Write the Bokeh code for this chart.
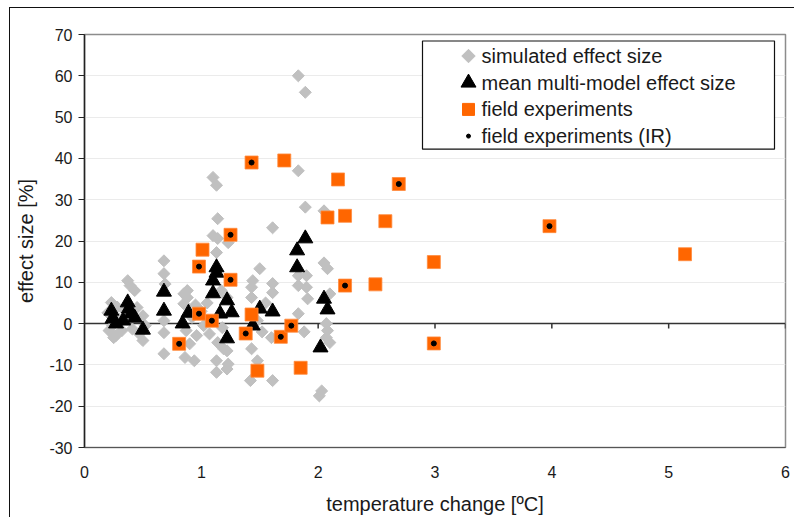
import math
from bokeh.plotting import figure
from bokeh.models import Range1d, FixedTicker, Span
from bokeh.core.properties import value
from bokeh.embed import file_html
from bokeh.resources import INLINE

# simulated effect size (grey diamonds)
sim_x = [0.20, 0.21, 0.23, 0.24, 0.25, 0.27, 0.28, 0.30, 0.32, 0.35, 0.37, 0.39, 0.41, 0.43, 0.45, 0.47, 0.50, 0.50, 0.52,
         0.68, 0.68, 0.69, 0.68, 0.68, 0.68,
         0.85, 0.85, 0.88, 0.88, 0.87, 0.90, 0.86, 0.94, 0.96, 0.92, 0.95, 1.00, 1.02,
         1.10, 1.13, 1.14, 1.10, 1.14, 1.23, 1.13, 1.22, 1.14, 1.22, 1.13, 1.13, 1.22, 1.19, 1.23, 1.17, 1.05, 1.18, 1.07,
         1.50, 1.44, 1.43, 1.61, 1.61, 1.43, 1.48, 1.60, 1.43, 1.48, 1.42, 1.61, 1.61, 1.55, 1.52,
         1.83, 1.89, 1.83, 1.89, 2.05, 2.05, 2.08, 1.83, 1.90, 1.90, 1.83, 1.91, 1.83, 2.10, 2.07, 2.08, 2.07, 2.10, 2.03, 2.01, 1.88]
sim_y = [2.6, -1.7, 5.1, -0.5, -3.4, -2.9, 4.0, 1.0, -1.7, 3.0, 10.4, 9.2, -1.3, 8.0, 3.9, -2.5, 1.9, -4.1, -0.5,
         15.2, 12.1, 9.6, 0.7, -2.2, -7.3,
         7.2, 4.8, 8.0, 6.3, -1.7, -4.9, -8.2, -9.0, -2.9, 1.5, 4.5, 3.0, -0.5,
         35.4, 33.5, 25.4, 21.3, 20.6, 19.6, 17.2, 6.3, -4.6, -6.6, -9.0, -11.8, -11.0, -6.1, -9.8, 8.0, 5.0, -1.0, -2.5,
         13.3, 10.4, 8.8, 9.7, 7.5, 6.3, 0.7, -3.4, -6.1, -9.0, -13.8, -13.8, 23.2, 5.0, -2.0,
         60.0, 56.0, 37.0, 28.2, 27.3, 14.7, 13.3, 11.6, 11.6, 8.8, 9.2, 6.0, 2.4, 7.2, 0.0, -1.7, -3.4, -4.6, -16.3, -17.5, -2.0]

# mean multi-model effect size (black triangles)
mm_x = [0.23, 0.24, 0.27, 0.33, 0.37, 0.38, 0.40, 0.43, 0.50, 0.68, 0.68, 0.84, 0.89,
        1.10, 1.10, 1.13, 1.13, 1.16, 1.22, 1.26, 1.22, 1.44, 1.50, 1.61,
        1.82, 1.89, 1.82, 2.05, 2.08, 2.02]
mm_y = [3.1, 1.2, 0.0, 0.7, 5.1, 3.6, 2.4, 1.4, -1.5, 7.7, 3.1, 0.0, 2.6,
        10.4, 7.3, 13.6, 12.3, 2.4, 5.6, 2.7, -3.6, -0.5, 3.6, 2.9,
        17.7, 20.6, 13.6, 6.0, 3.4, -5.8]

# field experiments (orange squares)
field_x = [1.01, 1.43, 1.48, 1.71, 1.85, 2.08, 2.17, 2.23, 2.49, 2.575, 2.99, 5.14]
field_y = [17.9, 2.2, -11.4, 39.5, -10.7, 25.7, 34.9, 26.1, 9.5, 24.8, 14.9, 16.8]

# field experiments (IR) - also field experiments, marked with a dot
ir_x = [0.81, 0.98, 0.98, 1.09, 1.25, 1.25, 1.38, 1.43, 1.68, 1.77, 2.23, 2.69, 2.99, 3.98]
ir_y = [-4.9, 13.8, 2.4, 0.7, 21.5, 10.6, -2.4, 39.0, -3.2, -0.5, 9.2, 33.8, -4.8, 23.6]

x_ticks = [0, 1, 2, 3, 4, 5, 6]
y_ticks = [-30, -20, -10, 0, 10, 20, 30, 40, 50, 60, 70]

legend_labels = ["simulated effect size", "mean multi-model effect size",
                 "field experiments", "field experiments (IR)"]

FONT = "Liberation Sans"
TXT = "#1a1a1a"
GREY = "#c0c0c0"
ORANGE = "#ff6600"

p = figure(width=785, height=510, output_backend="svg", toolbar_location=None, title=None,
           x_range=Range1d(0, 6), y_range=Range1d(-30, 70),
           min_border_left=74, min_border_right=10, min_border_top=26, min_border_bottom=71)
p.styles = {"margin-left": "9px", "margin-top": "7px",
            "border-left": "1px solid #111", "border-top": "1px solid #111"}

p.outline_line_color = "#8c8c8c"
p.outline_line_width = 1.5
p.xgrid.grid_line_color = None
p.ygrid.grid_line_color = "#ebebeb"
p.ygrid.ticker = FixedTicker(ticks=y_ticks)

p.xaxis.ticker = FixedTicker(ticks=x_ticks)
p.yaxis.ticker = FixedTicker(ticks=y_ticks)
p.yaxis.major_label_overrides = {t: str(t) for t in y_ticks}
p.xaxis.axis_label = "temperature change [ºC]"
p.yaxis.axis_label = "effect size [%]"
for ax in (p.xaxis[0], p.yaxis[0]):
    ax.axis_label_text_font = FONT
    ax.axis_label_text_font_size = "20px"
    ax.axis_label_text_font_style = "normal"
    ax.axis_label_text_color = TXT
    ax.major_label_text_font = FONT
    ax.major_label_text_font_size = "16px"
    ax.major_label_text_color = TXT
    ax.minor_tick_line_color = None
p.xaxis.axis_line_color = "#555555"
p.xaxis.major_tick_line_color = None
p.xaxis.major_label_standoff = 12
p.xaxis.axis_label_standoff = 12
p.yaxis.axis_line_color = "#222222"
p.yaxis.axis_line_width = 1.5
p.yaxis.major_tick_line_color = "#222222"
p.yaxis.major_tick_out = 6
p.yaxis.major_tick_in = 0
p.yaxis.major_label_standoff = 6
p.yaxis.axis_label_standoff = 9

# horizontal axis line at zero with small ticks
p.add_layout(Span(location=0, dimension="width", line_color="#333333", line_width=1.5, level="underlay"))
p.segment(x0=x_ticks[1:], y0=[0] * 6, x1=x_ticks[1:], y1=[-1.2] * 6, line_color="#333333", line_width=1.5)

# data series
p.scatter(sim_x, sim_y, marker="square", angle=math.pi / 4, size=8.5, fill_color=GREY, line_color=GREY)
p.scatter(mm_x, mm_y, marker="triangle", size=15, fill_color="black", line_color="black")
p.scatter(field_x + ir_x, field_y + ir_y, marker="square", size=13,
          fill_color=ORANGE, line_color="#ff8a3d", line_width=0.8)
p.scatter(ir_x, ir_y, marker="circle", size=5, fill_color="black", line_color="black")


# legend drawn by hand (pixel position of the legend box -> data units)
def dx(px):
    return (px - 84) * 6 / 701


def dy(py):
    return 70 - (py - 34.5) * 100 / 412.5


p.quad(left=[dx(422)], right=[dx(774)], top=[dy(41)], bottom=[dy(149)],
       fill_color="white", line_color="#111111", line_width=1.2)
rows = [dy(56), dy(82.7), dy(109.3), dy(136)]
gx = dx(468)
p.scatter([gx], [rows[0]], marker="square", angle=math.pi / 4, size=9.5, fill_color=GREY, line_color=GREY)
p.scatter([gx], [rows[1]], marker="triangle", size=15, fill_color="black", line_color="black")
p.scatter([gx], [rows[2]], marker="square", size=12, fill_color=ORANGE, line_color=ORANGE)
p.scatter([gx], [rows[3]], marker="circle", size=4, fill_color="black", line_color="black")
p.text(x=[dx(481)] * 4, y=rows, text=legend_labels, text_font=value(FONT), text_font_size="20px",
       text_color=TXT, text_baseline="middle", text_align="left")

open("out.html", "w").write(file_html(p, INLINE))
